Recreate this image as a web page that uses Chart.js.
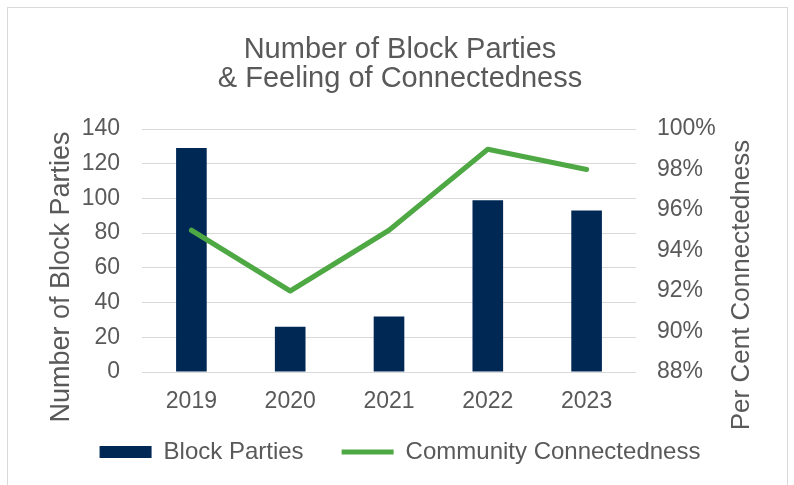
<!DOCTYPE html>
<html>
<head>
<meta charset="utf-8">
<script src="https://cdn.jsdelivr.net/npm/chart.js@4/dist/chart.umd.min.js"></script>
<style>
  body { margin: 0; background: #ffffff; }
  #frame {
    position: absolute; left: 7px; top: 7px; width: 779px; height: 520px;
    border: 1px solid #d9d9d9; background: #ffffff;
  }
  #chart { position: absolute; left: 0; top: 0; }
</style>
</head>
<body>
<div id="frame"></div>
<canvas id="chart" width="794" height="485"></canvas>
<script>
// Values
const years = ['2019', '2020', '2021', '2022', '2023'];
const blockParties = [129, 26, 32, 99, 93];
const connectedness = [95, 92, 95, 99, 98]; // per cent

const titleLines = ['Number of Block Parties', '& Feeling of Connectedness'];
const leftTitle = 'Number of Block Parties';
const rightTitle = 'Per Cent Connectedness';

const navy = '#002855';
const green = '#4ea843';
const textGray = '#595959';
const gridGray = '#d9d9d9';
const font = 'Liberation Sans, Arial, sans-serif';

Chart.defaults.font.family = font;
Chart.defaults.color = textGray;

// Axis titles, both rotated the same way as in the reference
function drawRotated(ctx, text, size, x, y) {
  ctx.save();
  ctx.fillStyle = textGray;
  ctx.font = size + 'px ' + font;
  ctx.textAlign = 'center';
  ctx.textBaseline = 'middle';
  ctx.translate(x, y);
  ctx.rotate(-Math.PI / 2);
  ctx.fillText(text, 0, 0);
  ctx.restore();
}

const axisTitles = {
  id: 'axisTitles',
  afterDraw(chart) {
    drawRotated(chart.ctx, leftTitle, 27, 62, 277);
    drawRotated(chart.ctx, rightTitle, 26, 742, 285);
  }
};

// Make the legend only as tall as needed
const legendHeight = {
  id: 'legendHeight',
  beforeInit(chart) {
    const origFit = chart.legend.fit;
    chart.legend.fit = function() {
      origFit.bind(chart.legend)();
      this.height = 83;
    };
  }
};

new Chart(document.getElementById('chart'), {
  type: 'bar',
  data: {
    labels: years,
    datasets: [
      {
        label: 'Block Parties',
        data: blockParties,
        backgroundColor: navy,
        borderWidth: 0,
        barPercentage: 0.31,
        categoryPercentage: 1,
        yAxisID: 'y',
        order: 2
      },
      {
        type: 'line',
        label: 'Community Connectedness',
        data: connectedness,
        borderColor: green,
        backgroundColor: green,
        borderWidth: 5,
        borderCapStyle: 'round',
        borderJoinStyle: 'round',
        pointRadius: 0,
        tension: 0,
        yAxisID: 'y1',
        order: 1
      }
    ]
  },
  options: {
    responsive: false,
    animation: false,
    layout: { padding: { left: 26, right: 20, top: 8, bottom: 0 } },
    plugins: {
      title: {
        display: true,
        text: titleLines,
        color: textGray,
        font: { size: 29, weight: 'normal', lineHeight: 1.0 },
        padding: { top: 27, bottom: 36 }
      },
      legend: {
        position: 'bottom',
        labels: {
          usePointStyle: true,
          pointStyleWidth: 52,
          boxHeight: 12,
          padding: 38,
          color: textGray,
          font: { size: 24 },
          generateLabels: function(chart) {
            return [
              { text: 'Block Parties', fillStyle: navy, strokeStyle: navy, lineWidth: 0,
                pointStyle: 'rect', datasetIndex: 0, fontColor: textGray },
              { text: 'Community Connectedness', fillStyle: green, strokeStyle: green, lineWidth: 5,
                pointStyle: 'line', datasetIndex: 1, fontColor: textGray }
            ];
          }
        }
      },
      tooltip: { enabled: false }
    },
    scales: {
      x: {
        grid: { display: false },
        border: { display: false },
        ticks: { font: { size: 23 }, padding: 8, color: textGray },
        afterFit: function(scale) {
          scale.height = 30;
          // labels hang below the short axis box, so do not clip them
          scale._computeLabelArea = function() { return undefined; };
        }
      },
      y: {
        position: 'left',
        min: 0,
        max: 140,
        ticks: { stepSize: 20, font: { size: 23 }, padding: 22, color: textGray },
        grid: { color: gridGray, lineWidth: 1, drawTicks: false },
        border: { display: false },
        afterFit: function(scale) { scale.width = 142 - 26; }
      },
      y1: {
        position: 'right',
        min: 88,
        max: 100,
        ticks: {
          stepSize: 2,
          font: { size: 23 },
          padding: 21,
          color: textGray,
          callback: function(value) { return value + '%'; }
        },
        grid: { display: false, drawTicks: false },
        border: { display: false },
        afterFit: function(scale) { scale.width = 774 - 636; }
      }
    }
  },
  plugins: [axisTitles, legendHeight]
});
</script>
</body>
</html>
